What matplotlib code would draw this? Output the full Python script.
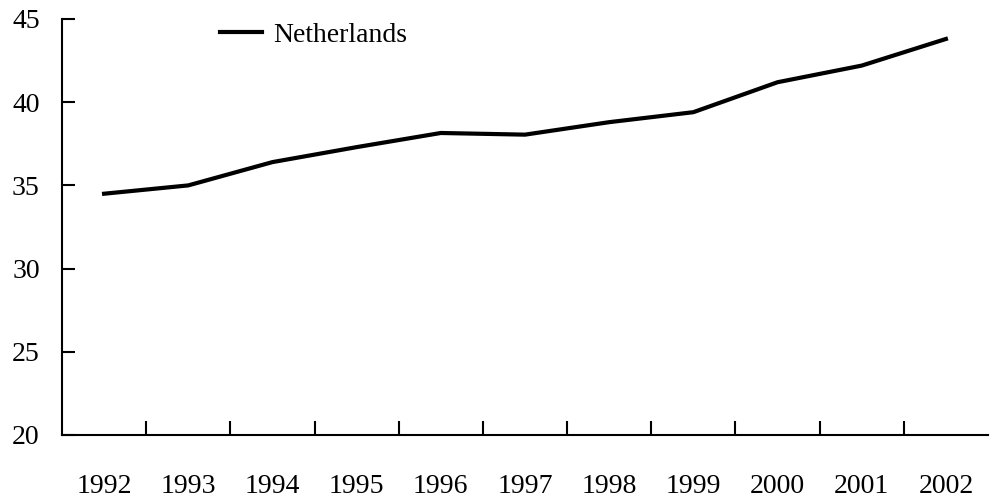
import matplotlib
matplotlib.use('Agg')
import matplotlib.pyplot as plt

years = ['1992', '1993', '1994', '1995', '1996', '1997', '1998', '1999', '2000', '2001', '2002']
netherlands = [34.5, 35.0, 36.4, 37.3, 38.15, 38.05, 38.8, 39.4, 41.2, 42.2, 43.8]

plt.rcParams['font.family'] = ['Liberation Serif', 'DejaVu Serif']

W, H = 990, 499
fig = plt.figure(figsize=(W / 100, H / 100), dpi=100)
ax = fig.add_axes([62 / W, (H - 435) / H, (988 - 62) / W, (435 - 19) / H])

x = list(range(len(years)))
ax.plot(x, netherlands, color='black', linewidth=3, label='Netherlands')

ax.set_xlim(-0.5, len(years) - 0.5)
ax.set_ylim(20, 45)
ax.set_yticks([20, 25, 30, 35, 40, 45])
ax.set_xticks([i + 0.5 for i in range(len(years) - 1)])
ax.set_xticklabels([])
ax.set_xticks(x, minor=True)
ax.set_xticklabels(years, minor=True)
ax.tick_params(axis='x', which='major', direction='in', length=10, width=1.5)
ax.tick_params(axis='x', which='minor', length=0, pad=28, labelsize=20)
ax.tick_params(axis='y', direction='in', length=9, width=1.5, pad=16, labelsize=20)

for s in ['top', 'right']:
    ax.spines[s].set_visible(False)
for s in ['left', 'bottom']:
    ax.spines[s].set_linewidth(1.5)

leg = ax.legend(loc='center left', bbox_to_anchor=(0.171, 0.962), frameon=False,
                fontsize=20, handlelength=1.5, handletextpad=0.4,
                borderaxespad=0, borderpad=0)

fig.savefig('out.png', dpi=100)
